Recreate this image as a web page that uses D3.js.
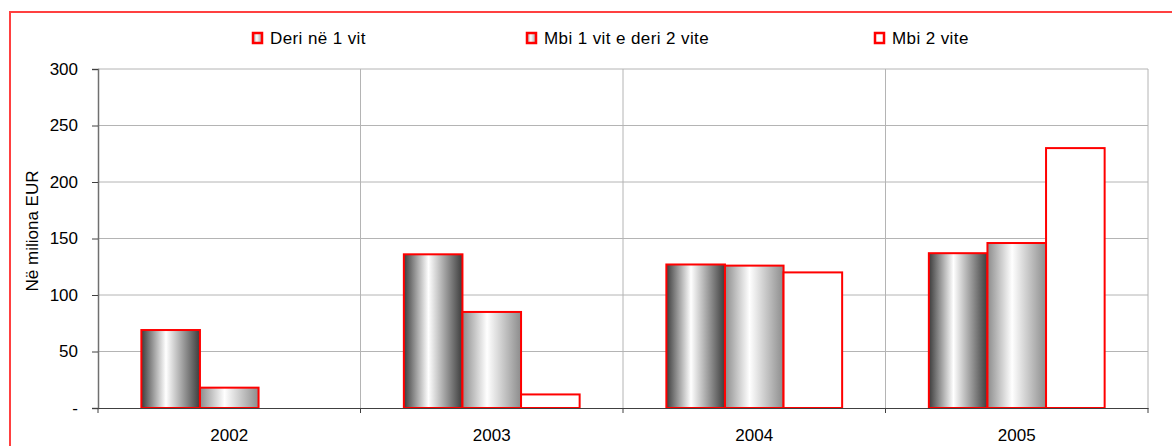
<!DOCTYPE html>
<html>
<head>
<meta charset="utf-8">
<script src="https://cdn.jsdelivr.net/npm/d3@7"></script>
<style>
  body { margin: 0; background: #fff; }
  svg { display: block; font-family: "Liberation Sans", Arial, sans-serif; }
</style>
</head>
<body>
<div id="chart"></div>
<script>
// Data
const years = ["2002", "2003", "2004", "2005"];
const seriesNames = ["Deri në 1 vit", "Mbi 1 vit e deri 2 vite", "Mbi 2 vite"];
const upTo1 = [69, 136, 127, 137];
const from1to2 = [18, 85, 126, 146];
const over2 = [0, 12, 120, 230];
const yTicks = [0, 50, 100, 150, 200, 250, 300];

const W = 1172, H = 446;
const margin = { top: 69, right: 24, bottom: 38, left: 98 };
const width = W - margin.left - margin.right;
const height = H - margin.top - margin.bottom;

const svg = d3.select("#chart").append("svg")
    .attr("width", W)
    .attr("height", H);

// gradients
const defs = svg.append("defs");
function grad(id, edge) {
    const g = defs.append("linearGradient").attr("id", id)
        .attr("x1", "0%").attr("x2", "100%").attr("y1", "0%").attr("y2", "0%");
    g.append("stop").attr("offset", "0%").attr("stop-color", edge);
    g.append("stop").attr("offset", "42%").attr("stop-color", "#ffffff");
    g.append("stop").attr("offset", "100%").attr("stop-color", edge);
}
grad("g1", "#3c3c3c");
grad("g2", "#8c8c8c");
grad("gl", "#a0a0a0");
const fills = ["url(#g1)", "url(#g2)", "#ffffff"];
const legendFills = ["url(#gl)", "url(#gl)", "#ffffff"];

// outer frame
svg.append("rect")
    .attr("x", 10).attr("y", 12)
    .attr("width", W).attr("height", H)
    .attr("fill", "none")
    .attr("stroke", "#ff4040")
    .attr("stroke-width", 2);

const g = svg.append("g").attr("transform", `translate(${margin.left},${margin.top})`);

const x0 = d3.scaleBand().domain(years).range([0, width]);
const x1 = d3.scaleBand().domain(d3.range(3)).range([0, x0.bandwidth()]).paddingInner(0).paddingOuter(0.74);
const y = d3.scaleLinear().domain([0, 300]).range([height, 0]);

// gridlines
g.append("g").selectAll("line").data(yTicks.slice(1)).enter().append("line")
    .attr("x1", 0).attr("x2", width)
    .attr("y1", d => y(d)).attr("y2", d => y(d))
    .attr("stroke", "#b4b4b4").attr("stroke-width", 1);
g.append("g").selectAll("line").data(years.slice(1).concat(["end"])).enter().append("line")
    .attr("x1", (d, i) => x0.bandwidth() * (i + 1)).attr("x2", (d, i) => x0.bandwidth() * (i + 1))
    .attr("y1", 0).attr("y2", height)
    .attr("stroke", "#b4b4b4").attr("stroke-width", 1);

// bars
const series = [upTo1, from1to2, over2];
const groups = g.selectAll(".yr").data(years).enter().append("g")
    .attr("transform", d => `translate(${x0(d)},0)`);
groups.selectAll("rect")
    .data((d, i) => series.map((s, k) => ({ k, v: s[i] })))
    .enter().append("rect")
    .filter(d => d.v > 0)
    .attr("x", d => x1(d.k))
    .attr("width", x1.bandwidth())
    .attr("y", d => y(d.v))
    .attr("height", d => height - y(d.v))
    .attr("fill", d => fills[d.k])
    .attr("stroke", "#ff0000")
    .attr("stroke-width", 2);

// y axis
const yAxis = d3.axisLeft(y).tickValues(yTicks).tickSize(6).tickPadding(14)
    .tickFormat(d => d === 0 ? "-" : d);
const ya = g.append("g").call(yAxis);
ya.attr("font-size", null).attr("font-family", null);
ya.select(".domain").attr("stroke", "#707070").attr("stroke-width", 1.5);
ya.selectAll(".tick line").attr("stroke", "#404040");
ya.selectAll("text").style("font-size", "17px").attr("fill", "#000");

// x axis
const xAxis = d3.axisBottom(x0).tickSize(0).tickPadding(21);
const xa = g.append("g").attr("transform", `translate(0,${height})`).call(xAxis);
xa.attr("font-size", null).attr("font-family", null);
xa.select(".domain").attr("stroke", "#404040");
xa.selectAll("text").style("font-size", "17px").attr("fill", "#000");
xa.selectAll(".bt").data(d3.range(5)).enter().append("line")
    .attr("x1", d => d * x0.bandwidth()).attr("x2", d => d * x0.bandwidth())
    .attr("y1", 0).attr("y2", 5).attr("stroke", "#404040");

// y title
svg.append("text")
    .attr("transform", `translate(38,231) rotate(-90)`)
    .attr("text-anchor", "middle")
    .style("font-size", "17px")
    .text("Në miliona EUR");

// legend
const legendX = [270, 544, 892];
const lg = svg.append("g").selectAll("g").data(seriesNames).enter().append("g")
    .attr("transform", (d, i) => `translate(${legendX[i]},0)`);
lg.append("rect")
    .attr("x", -17).attr("y", 33)
    .attr("width", 9).attr("height", 10)
    .attr("fill", (d, i) => legendFills[i])
    .attr("stroke", "#ff0000").attr("stroke-width", 2.5);
lg.append("text")
    .attr("x", 0).attr("y", 44)
    .style("font-size", "17px")
    .style("letter-spacing", "0.4px")
    .text(d => d);
</script>
</body>
</html>
